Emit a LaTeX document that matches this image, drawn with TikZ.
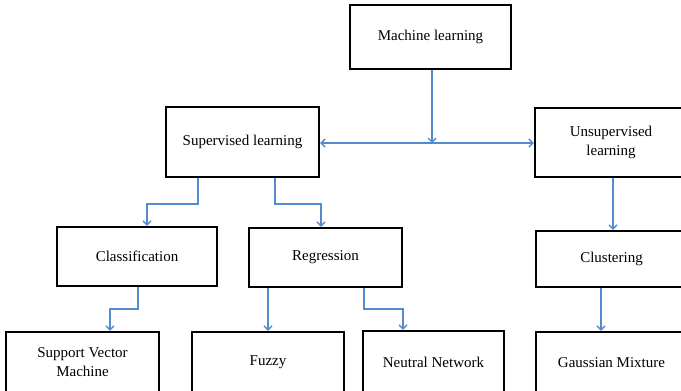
\documentclass[tikz,border=0pt]{standalone}
\usepackage{fontspec}
\setmainfont{Liberation Serif}
\usetikzlibrary{arrows.meta}
\definecolor{linkblue}{RGB}{84,138,206}
\begin{document}
\begin{tikzpicture}[x=1pt,y=-1pt,
  box/.style={draw=black,line width=2.4pt,rectangle,inner sep=0pt,
    align=center,font=\fontsize{15}{19}\selectfont},
  arr/.style={draw=linkblue,line width=1.5pt,
    -{Straight Barb[length=4pt,width=8pt,line width=1.3pt]}},
  link/.style={draw=linkblue,line width=1.5pt}]
\useasboundingbox (0,0) rectangle (681,391);
\clip (0,0) rectangle (681,391);

% top level
\node[box,minimum width=161pt,minimum height=64pt] (ml) at (430.5,37) {Machine learning};

% second level
\node[box,minimum width=153pt,minimum height=70pt] (sup) at (242.5,142) {Supervised learning};
\node[box,minimum width=152pt,minimum height=69pt] (uns) at (611,142.5) {Unsupervised\\learning};

% third level
\node[box,minimum width=160pt,minimum height=59pt] (cls) at (137,256.5) {Classification};
\node[box,minimum width=153pt,minimum height=59pt] (reg) at (325.5,257.5) {Regression};
\node[box,minimum width=151pt,minimum height=56pt] (clu) at (611.5,259) {Clustering};

% leaves
\node[box,minimum width=153pt,minimum height=61pt] (svm) at (82.5,362.5) {Support Vector\\Machine};
\node[box,minimum width=152pt,minimum height=61pt] (fuz) at (268,362.5) {Fuzzy};
\node[box,minimum width=141pt,minimum height=62pt] (nn) at (433.5,362) {Neutral Network};
\node[box,minimum width=151pt,minimum height=61pt] (gau) at (611.5,362.5) {Gaussian Mixture};

% split from the root
\coordinate (j) at (432,143);
\draw[arr] ([xshift=1.5pt]ml.south) -- (j);
\draw[arr] (j) -- (sup.east |- j);
\draw[arr] (j) -- (uns.west |- j);

% supervised branch
\draw[arr] ([xshift=-44.5pt]sup.south) -- ++(0,26) -| ([xshift=10pt]cls.north);
\draw[arr] ([xshift=32.5pt]sup.south) -- ++(0,26) -| ([xshift=-4.5pt]reg.north);
\draw[arr] ([xshift=1pt]cls.south) -- ++(0,22) -| ([xshift=27.5pt]svm.north);
\draw[arr] (fuz.north |- reg.south) -- (fuz.north);
\draw[arr] ([xshift=38.5pt]reg.south) -- ++(0,21) -| ([xshift=-30.5pt]nn.north);

% unsupervised branch
\draw[arr] ([xshift=2pt]uns.south) -- ([xshift=2pt]uns.south |- clu.north);
\draw[arr] ([xshift=-10.5pt]clu.south) -- ([xshift=-10.5pt]clu.south |- gau.north);
\end{tikzpicture}
\end{document}
